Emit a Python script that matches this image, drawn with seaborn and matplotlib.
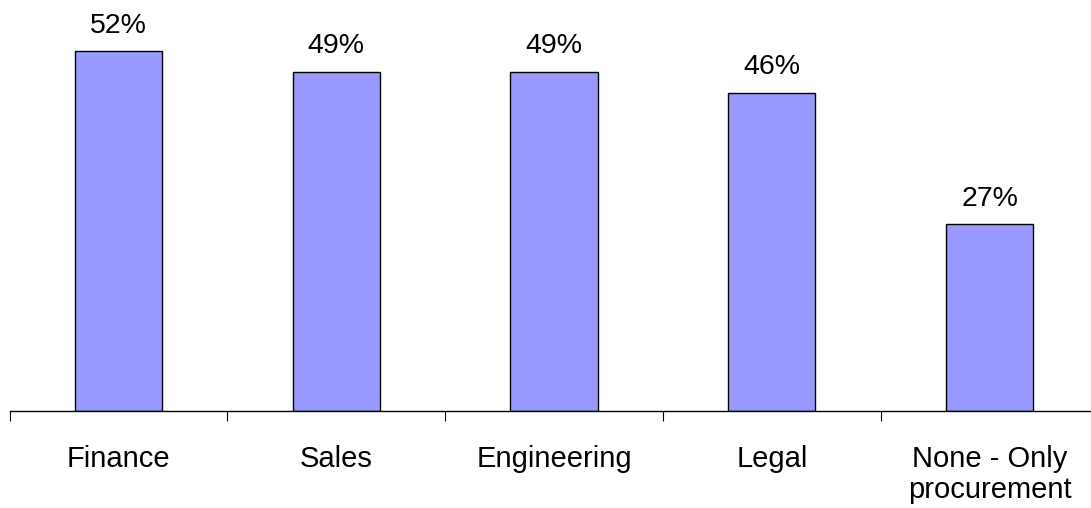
import matplotlib
matplotlib.use("Agg")
import matplotlib.pyplot as plt
import seaborn as sns
import pandas as pd
from matplotlib.ticker import FixedLocator

categories = ["Finance", "Sales", "Engineering", "Legal", "None - Only\nprocurement"]
values = [52, 49, 49, 46, 27]
value_labels = ["52%", "49%", "49%", "46%", "27%"]

sns.set_theme(style="white")
plt.rcParams["font.family"] = ["Liberation Sans", "DejaVu Sans"]

df = pd.DataFrame({"category": categories, "value": values})

W, H = 1091, 508
fig = plt.figure(figsize=(W / 100, H / 100), dpi=100)
x0, x1 = 9.6, 1098.5
y_base, y_top = 411, 0
ax = fig.add_axes([x0 / W, (H - y_base) / H, (x1 - x0) / W, (y_base - y_top) / H])

sns.barplot(data=df, x="category", y="value", color="#9999FF", saturation=1,
            width=0.4, edgecolor="black", linewidth=1.0, ax=ax)

ax.set_xlim(-0.5, len(categories) - 0.5)
ax.set_ylim(0, 59.4)

for i, (v, lab) in enumerate(zip(values, value_labels)):
    ax.annotate(lab, xy=(i, v), xytext=(0, 9), textcoords="offset points",
                ha="center", va="bottom", fontsize=20.5, color="black")

for s in ["top", "right", "left"]:
    ax.spines[s].set_visible(False)
ax.spines["bottom"].set_color("black")
ax.spines["bottom"].set_linewidth(1.0)

ax.set_yticks([])
ax.set_xlabel("")
ax.set_ylabel("")
ax.tick_params(axis="x", which="major", length=0, pad=24.5, labelsize=21, colors="black")
ax.xaxis.set_minor_locator(FixedLocator([i - 0.5 for i in range(len(categories) + 1)]))
ax.tick_params(axis="x", which="minor", bottom=True, length=7.5, width=0.8, color="black", direction="out")
for t in ax.get_xticklabels():
    t.set_linespacing(1.12)
    t.set_verticalalignment("top")

fig.savefig("out.png", dpi=100, facecolor="white")
